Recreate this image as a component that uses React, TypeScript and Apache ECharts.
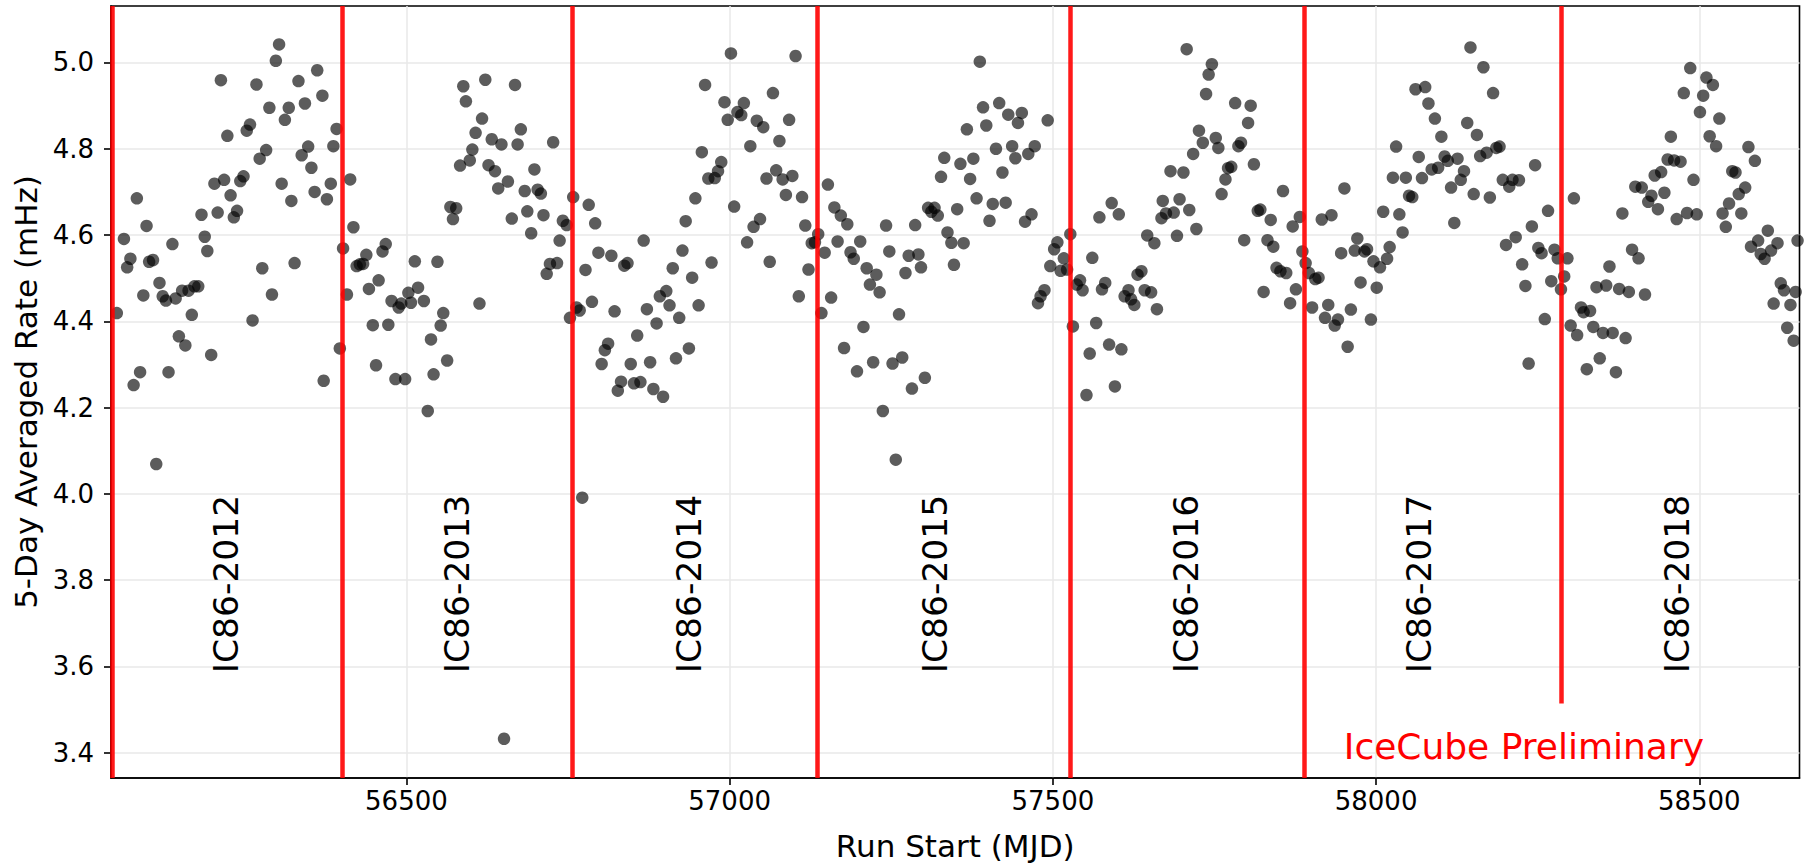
import React, { useEffect, useRef } from "react";
import * as echarts from "echarts";

// ---- data: [MJD, 5-day averaged rate (mHz)] per season ----
const S2012: number[][] = [[56052,4.419],[56063,4.591],[56068,4.525],[56073,4.545],[56078,4.252],[56083,4.685],[56088,4.282],[56093,4.460],[56098,4.621],[56102,4.538],[56108,4.542],[56113,4.069],[56118,4.489],[56123,4.458],[56128,4.448],[56132,4.282],[56138,4.579],[56143,4.453],[56148,4.365],[56153,4.471],[56158,4.344],[56163,4.471],[56168,4.415],[56172,4.481],[56178,4.481],[56183,4.647],[56188,4.596],[56192,4.563],[56198,4.322],[56203,4.719],[56208,4.652],[56213,4.959],[56218,4.728],[56223,4.830],[56228,4.692],[56233,4.641],[56238,4.656],[56243,4.725],[56248,4.736],[56253,4.842],[56258,4.856],[56262,4.402],[56268,4.949],[56273,4.777],[56277,4.523],[56283,4.797],[56288,4.895],[56292,4.462],[56298,5.004],[56303,5.042],[56307,4.719],[56312,4.867],[56318,4.895],[56322,4.679],[56327,4.535],[56333,4.957],[56338,4.785],[56343,4.905],[56348,4.805],[56353,4.756],[56358,4.700],[56362,4.982],[56370,4.923],[56372,4.262],[56377,4.683],[56383,4.719],[56387,4.806],[56392,4.846],[56397,4.337]];
const S2013: number[][] = [[56402,4.569],[56408,4.462],[56413,4.729],[56418,4.618],[56423,4.528],[56428,4.532],[56433,4.533],[56438,4.554],[56442,4.475],[56448,4.391],[56453,4.298],[56457,4.495],[56463,4.562],[56468,4.579],[56472,4.392],[56477,4.447],[56483,4.266],[56488,4.432],[56492,4.441],[56498,4.266],[56503,4.466],[56507,4.443],[56513,4.539],[56518,4.478],[56527,4.447],[56533,4.192],[56538,4.358],[56542,4.277],[56548,4.538],[56553,4.390],[56557,4.419],[56563,4.309],[56568,4.665],[56572,4.637],[56577,4.662],[56583,4.761],[56588,4.945],[56592,4.910],[56598,4.773],[56602,4.798],[56607,4.837],[56613,4.441],[56617,4.870],[56622,4.960],[56627,4.762],[56632,4.822],[56637,4.748],[56642,4.708],[56647,4.810],[56651,3.432],[56657,4.724],[56663,4.638],[56668,4.948],[56672,4.810],[56677,4.845],[56683,4.702],[56687,4.655],[56693,4.604],[56698,4.752],[56703,4.705],[56708,4.696],[56712,4.646],[56717,4.510],[56722,4.533],[56727,4.815],[56733,4.535],[56737,4.587],[56742,4.633],[56748,4.623],[56753,4.408]];
const S2014: number[][] = [[56758,4.688],[56763,4.432],[56768,4.425],[56772,3.991],[56777,4.519],[56782,4.670],[56787,4.445],[56792,4.627],[56797,4.559],[56802,4.301],[56807,4.333],[56812,4.348],[56817,4.552],[56822,4.423],[56827,4.239],[56832,4.260],[56837,4.529],[56842,4.535],[56847,4.301],[56852,4.256],[56857,4.367],[56862,4.259],[56867,4.587],[56872,4.428],[56877,4.305],[56882,4.243],[56887,4.395],[56892,4.458],[56897,4.225],[56902,4.470],[56907,4.437],[56912,4.523],[56917,4.314],[56922,4.408],[56927,4.564],[56932,4.632],[56937,4.337],[56942,4.501],[56947,4.685],[56952,4.437],[56957,4.792],[56962,4.948],[56967,4.731],[56972,4.536],[56977,4.732],[56982,4.748],[56987,4.769],[56992,4.908],[56997,4.867],[57002,5.021],[57007,4.666],[57012,4.885],[57018,4.878],[57022,4.906],[57027,4.583],[57032,4.806],[57037,4.619],[57042,4.865],[57047,4.637],[57052,4.850],[57057,4.731],[57062,4.538],[57067,4.929],[57072,4.750],[57077,4.818],[57082,4.729],[57087,4.693],[57092,4.867],[57097,4.737],[57102,5.015],[57107,4.458],[57112,4.688],[57117,4.622],[57122,4.520],[57127,4.581],[57132,4.583]];
const S2015: number[][] = [[57137,4.602],[57142,4.419],[57147,4.559],[57152,4.717],[57157,4.455],[57162,4.664],[57167,4.585],[57172,4.645],[57177,4.338],[57182,4.625],[57187,4.560],[57192,4.545],[57197,4.284],[57202,4.585],[57207,4.387],[57212,4.523],[57217,4.485],[57222,4.305],[57227,4.508],[57232,4.467],[57237,4.192],[57242,4.622],[57247,4.562],[57252,4.302],[57257,4.079],[57262,4.416],[57267,4.316],[57272,4.512],[57277,4.552],[57282,4.244],[57287,4.623],[57292,4.555],[57296,4.525],[57302,4.269],[57307,4.663],[57312,4.654],[57317,4.663],[57322,4.645],[57327,4.735],[57332,4.779],[57337,4.606],[57343,4.582],[57347,4.531],[57352,4.660],[57357,4.765],[57362,4.581],[57367,4.845],[57372,4.730],[57377,4.777],[57382,4.685],[57387,5.002],[57392,4.896],[57397,4.854],[57402,4.633],[57407,4.672],[57412,4.800],[57417,4.906],[57422,4.745],[57427,4.675],[57431,4.879],[57437,4.806],[57442,4.778],[57446,4.860],[57452,4.883],[57457,4.631],[57462,4.788],[57467,4.648],[57472,4.806],[57477,4.442],[57481,4.458],[57487,4.472],[57492,4.866],[57496,4.528],[57502,4.567],[57507,4.583],[57512,4.517],[57517,4.546],[57522,4.520],[57527,4.602]];
const S2016: number[][] = [[57531,4.388],[57537,4.485],[57542,4.495],[57546,4.472],[57552,4.229],[57557,4.325],[57561,4.547],[57567,4.396],[57572,4.641],[57576,4.474],[57581,4.489],[57587,4.346],[57591,4.674],[57596,4.249],[57602,4.648],[57606,4.335],[57611,4.458],[57617,4.472],[57621,4.451],[57626,4.438],[57631,4.508],[57637,4.516],[57642,4.472],[57646,4.599],[57652,4.467],[57657,4.581],[57661,4.428],[57668,4.639],[57670,4.679],[57675,4.650],[57682,4.748],[57687,4.652],[57692,4.598],[57696,4.683],[57702,4.745],[57707,5.031],[57711,4.658],[57717,4.788],[57722,4.614],[57726,4.842],[57732,4.814],[57737,4.927],[57741,4.972],[57746,4.996],[57752,4.825],[57756,4.802],[57761,4.695],[57767,4.729],[57771,4.755],[57776,4.758],[57782,4.906],[57787,4.806],[57791,4.814],[57796,4.588],[57802,4.860],[57806,4.900],[57811,4.764],[57817,4.656],[57821,4.659],[57826,4.468],[57832,4.588],[57837,4.635],[57841,4.573],[57846,4.524],[57852,4.516],[57856,4.702],[57861,4.512],[57867,4.442],[57871,4.620],[57876,4.474],[57882,4.642],[57886,4.562]];
const S2017: number[][] = [[57891,4.535],[57896,4.512],[57901,4.432],[57906,4.498],[57911,4.501],[57916,4.636],[57921,4.408],[57926,4.438],[57931,4.646],[57936,4.390],[57941,4.404],[57946,4.558],[57951,4.708],[57956,4.341],[57961,4.427],[57967,4.564],[57971,4.592],[57976,4.490],[57982,4.562],[57986,4.567],[57992,4.404],[57996,4.539],[58001,4.478],[58006,4.525],[58011,4.654],[58017,4.545],[58021,4.572],[58026,4.733],[58031,4.805],[58036,4.648],[58041,4.606],[58046,4.733],[58051,4.691],[58056,4.688],[58061,4.938],[58066,4.781],[58071,4.732],[58076,4.943],[58081,4.905],[58086,4.752],[58091,4.870],[58096,4.756],[58101,4.828],[58106,4.782],[58111,4.772],[58116,4.710],[58121,4.628],[58126,4.777],[58131,4.728],[58136,4.748],[58141,4.860],[58146,5.035],[58151,4.695],[58156,4.832],[58161,4.783],[58166,4.989],[58171,4.791],[58176,4.687],[58181,4.929],[58186,4.802],[58191,4.805],[58196,4.728],[58201,4.577],[58206,4.712],[58211,4.728],[58216,4.595],[58221,4.727],[58226,4.532],[58231,4.482],[58236,4.302],[58241,4.620],[58246,4.762],[58251,4.570],[58256,4.558],[58261,4.405],[58266,4.656],[58271,4.493],[58276,4.566],[58281,4.546]];
const S2018: number[][] = [[58286,4.474],[58291,4.504],[58296,4.546],[58301,4.390],[58306,4.685],[58311,4.368],[58317,4.432],[58321,4.421],[58326,4.289],[58331,4.424],[58336,4.387],[58341,4.479],[58346,4.314],[58351,4.373],[58356,4.483],[58361,4.527],[58366,4.373],[58371,4.282],[58376,4.475],[58381,4.650],[58386,4.361],[58391,4.468],[58396,4.566],[58401,4.712],[58406,4.546],[58411,4.710],[58416,4.462],[58421,4.677],[58426,4.691],[58431,4.738],[58436,4.660],[58441,4.746],[58446,4.698],[58451,4.775],[58456,4.828],[58461,4.773],[58465,4.637],[58471,4.770],[58476,4.929],[58481,4.651],[58486,4.987],[58491,4.728],[58496,4.648],[58501,4.885],[58506,4.923],[58511,4.965],[58516,4.829],[58521,4.948],[58526,4.806],[58531,4.870],[58536,4.650],[58541,4.619],[58546,4.673],[58551,4.748],[58556,4.745],[58561,4.695],[58565,4.650],[58571,4.710],[58576,4.804],[58580,4.573],[58586,4.772],[58591,4.587],[58595,4.556],[58601,4.545],[58606,4.610],[58611,4.564],[58615,4.441],[58621,4.581],[58626,4.488],[58631,4.472],[58636,4.385],[58641,4.438],[58646,4.355],[58649,4.468],[58652,4.587]];

const SEASON_NAMES = ["IC86-2012", "IC86-2013", "IC86-2014", "IC86-2015", "IC86-2016", "IC86-2017", "IC86-2018"];
const SEASON_STARTS = [56045, 56400, 56757, 57136, 57527, 57889, 58286];
const LABEL_X = [56221, 56578, 56937, 57317, 57706, 58067, 58465];
const LABEL_Y = 3.584;
const LAST_LINE_BOTTOM = 3.514;
const X_TICKS = [56500, 57000, 57500, 58000, 58500];
const Y_TICKS = [3.4, 3.6, 3.8, 4.0, 4.2, 4.4, 4.6, 4.8, 5.0];
const X_MIN = 56043, X_MAX = 58655;
const Y_MIN = 3.341, Y_MAX = 5.131;
const PRELIM_POS = [57950, 3.414];

const FONT = "'DejaVu Sans', 'Noto Sans', sans-serif";

export default function App() {
  const ref = useRef<HTMLDivElement>(null);
  useEffect(() => {
    if (!ref.current) return;
    const chart = echarts.init(ref.current, undefined, { renderer: "svg" });
    const allData = [...S2012, ...S2013, ...S2014, ...S2015, ...S2016, ...S2017, ...S2018];
    const redLines: any[] = SEASON_STARTS.slice(0, 6).map((x) => ({ xAxis: x }));
    redLines.push([{ coord: [SEASON_STARTS[6], LAST_LINE_BOTTOM] }, { coord: [SEASON_STARTS[6], Y_MAX] }]);
    const labelData = SEASON_NAMES.map((n, i) => [LABEL_X[i], LABEL_Y, n]);
    const axisCommon = {
      type: "value",
      axisLine: { show: true, onZero: false, lineStyle: { color: "#000", width: 1.6 } },
      axisTick: { show: true, length: 7, inside: false, lineStyle: { color: "#000", width: 1.6 } },
      splitLine: { show: true, lineStyle: { color: "#e8e8e8", width: 1.5 } },
      nameLocation: "middle",
      nameTextStyle: { fontSize: 31, color: "#000", fontFamily: FONT },
    };
    chart.setOption({
      animation: false,
      backgroundColor: "#fff",
      grid: { left: 111, right: 10.5, top: 6, bottom: 84.5, show: true, borderColor: "#000", borderWidth: 1.6, backgroundColor: "transparent" },
      xAxis: {
        ...axisCommon,
        min: X_MIN,
        max: X_MAX,
        name: "Run Start (MJD)",
        nameGap: 52,
        axisTick: { ...axisCommon.axisTick, customValues: X_TICKS },
        axisLabel: { customValues: X_TICKS, color: "#000", fontSize: 26, fontFamily: FONT, margin: 10, formatter: (v: number) => String(v) },
      },
      yAxis: {
        ...axisCommon,
        min: Y_MIN,
        max: Y_MAX,
        name: "5-Day Averaged Rate (mHz)",
        nameGap: 70,
        axisTick: { ...axisCommon.axisTick, customValues: Y_TICKS },
        axisLabel: { customValues: Y_TICKS, color: "#000", fontSize: 26, fontFamily: FONT, margin: 17, formatter: (v: number) => v.toFixed(1) },
      },
      series: [
        {
          type: "scatter",
          data: allData,
          symbolSize: 12.5,
          itemStyle: { color: "rgba(0,0,0,0.8)" },
          z: 3,
          silent: true,
          markLine: {
            silent: true,
            symbol: "none",
            label: { show: false },
            lineStyle: { color: "rgba(255,0,0,0.9)", width: 4.5, type: "solid" },
            data: redLines,
          },
        },
        {
          type: "custom",
          data: labelData,
          silent: true,
          z: 6,
          renderItem: (params: any, api: any) => {
            const p = api.coord([api.value(0), api.value(1)]);
            return {
              type: "text",
              x: p[0],
              y: p[1],
              rotation: Math.PI / 2,
              style: { text: labelData[params.dataIndex][2], fill: "#000", fontSize: 34.5, fontFamily: FONT, align: "left", verticalAlign: "middle" },
            };
          },
        },
        {
          type: "custom",
          data: [PRELIM_POS],
          silent: true,
          z: 6,
          renderItem: (params: any, api: any) => {
            const p = api.coord([api.value(0), api.value(1)]);
            return {
              type: "text",
              x: p[0],
              y: p[1],
              style: { text: "IceCube Preliminary", fill: "#ff0000", fontSize: 36, fontFamily: FONT, align: "left", verticalAlign: "middle" },
            };
          },
        },
      ],
    });
    return () => chart.dispose();
  }, []);
  return <div ref={ref} style={{ position: "fixed", left: 0, top: 0, width: 1810, height: 866, background: "#fff" }} />;
}
